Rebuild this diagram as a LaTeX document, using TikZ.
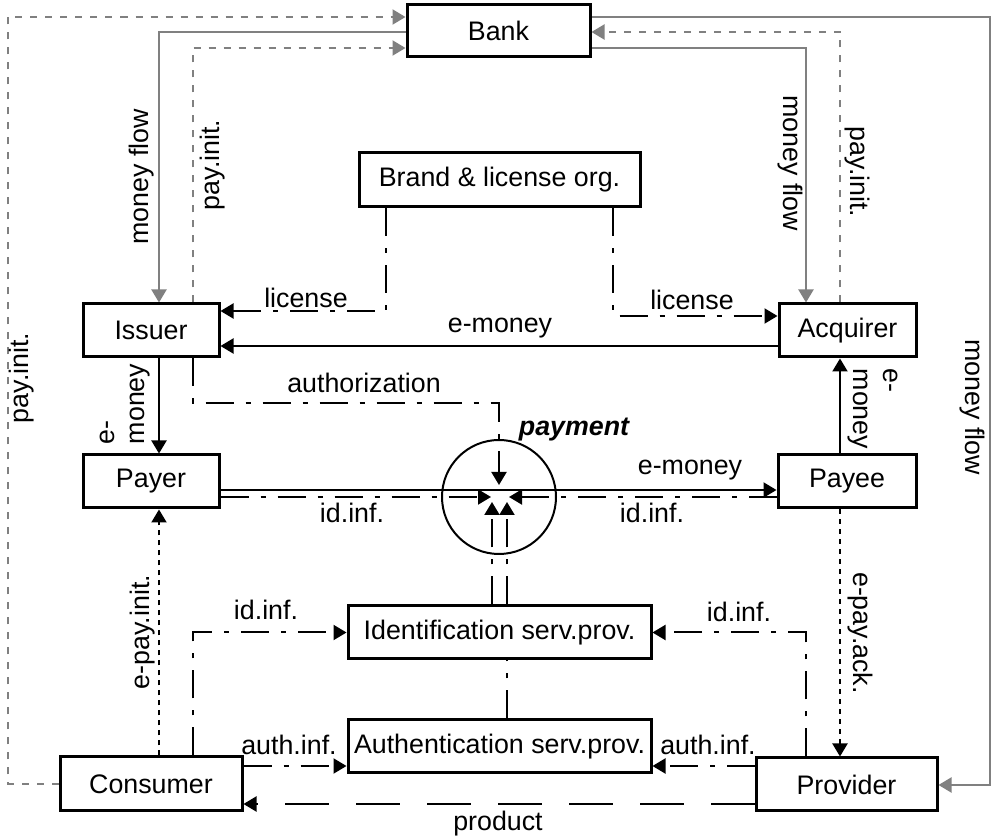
\documentclass[tikz,border=0pt]{standalone}
\usepackage{fontspec}
\setmainfont{Liberation Sans}
\usetikzlibrary{arrows.meta,calc}
\pgfdeclarelayer{wires}
\pgfsetlayers{wires,main}

\tikzset{
  txt/.style={font=\fontsize{13.4}{15}\selectfont},
  box/.style={txt, draw, line width=1.5pt, fill=white, inner sep=0pt,
    minimum height=26.5pt},
  lbl/.style={txt, inner sep=0pt},
  headtip/.style={-{Triangle[length=6.5pt,width=7.5pt]}},
  solidarrow/.style={line width=1pt, headtip},
  dashdot/.style={solidarrow, dash pattern=on 14pt off 6pt on 2.5pt off 6pt},
  dotline/.style={solidarrow, dash pattern=on 2.5pt off 2.5pt},
  longdash/.style={solidarrow, dash pattern=on 22pt off 13.5pt},
  greysolid/.style={line width=1pt, gray, headtip},
  greydash/.style={greysolid, dash pattern=on 3.5pt off 4pt}
}

\begin{document}
\begin{tikzpicture}[x=0.5pt,y=-0.5pt]
\useasboundingbox (0,0) rectangle (992,838);

% actors and institutions
\node[box, minimum width=91.5pt, minimum height=26pt] (bank) at (498.5,31) {Bank};
\node[box, minimum width=140.5pt, minimum height=27pt] (brand) at (499.5,180) {Brand \& license org.};
\node[box, minimum width=68pt] (iss) at (151,330.5) {Issuer};
\node[box, minimum width=68.5pt] (acq) at (847.5,330.5) {Acquirer};
\node[box, minimum width=68pt] (payer) at (151,481.5) {Payer};
\node[box, minimum width=69pt] (payee) at (847,481.5) {Payee};
\node[box, minimum width=151.5pt] (ident) at (499.5,632.5) {Identification serv.prov.};
\node[box, minimum width=151.5pt] (auth) at (499.5,746.5) {Authentication serv.prov.};
\node[box, minimum width=91pt, minimum height=27pt] (cons) at (151,784) {Consumer};
\node[box, minimum width=90.5pt] (prov) at (846.5,784.5) {Provider};

% the payment event
\node[draw, circle, line width=1pt, minimum size=57pt, inner sep=0pt] (pay) at (499,497) {};
\node[lbl, anchor=base, font=\fontsize{13.4}{15}\selectfont\bfseries\itshape] (payname) at (574,436) {payment};
\coordinate (tipAuthz) at (499,485);
\coordinate (tipL) at (491,497);
\coordinate (tipR) at (509,497);
\coordinate (tipI) at (492,502);
\coordinate (tipA) at (507,502);

\begin{pgfonlayer}{wires}
% bank links
\draw[greydash] (cons.west) -| (8,17) -- (bank.west |- 0,17);
\draw[greysolid] (bank.west |- 0,32) -| (iss.north -| 159,0);
\draw[greydash] (iss.north -| 193,0) |- (bank.west |- 0,48);
\draw[greysolid] (bank.east |- 0,48) -| (acq.north -| 806,0);
\draw[greydash] (acq.north -| 840,0) |- (bank.east |- 0,32);
\draw[greysolid] (bank.east |- 0,17) -| (990,785) -- (prov.east |- 0,785);

% licences
\draw[dashdot] (brand.south -| 386,0) |- (iss.east |- 0,311);
\draw[dashdot] (brand.south -| 613,0) |- (acq.west |- 0,316);

% e-money
\draw[solidarrow] (acq.west |- 0,346) -- (iss.east |- 0,346);
\draw[solidarrow] (iss.south -| 159,0) -- (payer.north -| 159,0);
\draw[solidarrow] (payer.east |- 0,490) -- (payee.west |- 0,490);
\draw[solidarrow] (payee.north -| 840,0) -- (acq.south -| 840,0);

% authorization and identification into the payment
\draw[dashdot] (iss.south -| 193,0) |- (499,403) -- (tipAuthz);
\draw[dashdot] (payer.east |- 0,497) -- (tipL);
\draw[dashdot] (payee.west |- 0,497) -- (tipR);
\draw[dashdot] (ident.north -| 492,0) -- (tipI);
\draw[dashdot] (auth.north -| 507,0) -- (tipA);

% consumer / provider side
\draw[dotline] (payee.south -| 840,0) -- (prov.north -| 840,0);
\draw[dotline] (cons.north -| 159,0) -- (payer.south -| 159,0);
\draw[dashdot] (cons.north -| 193,0) |- (ident.west);
\draw[dashdot] (prov.north -| 806,0) |- (ident.east);
\draw[dashdot] (cons.east |- 0,766) -- (auth.west |- 0,766);
\draw[dashdot] (prov.west |- 0,766) -- (auth.east |- 0,766);
\draw[longdash] (prov.west |- 0,804) -- (cons.east |- 0,804);
\end{pgfonlayer}

% labels
\node[lbl, rotate=90] (lPayInitOut) at (22,378) {pay.init.};
\node[lbl, rotate=90] (lMoneyL) at (142,177) {money flow};
\node[lbl, rotate=90] (lPayInitL) at (213,165) {pay.init.};
\node[lbl, rotate=-90] (lMoneyR) at (790,163) {money flow};
\node[lbl, rotate=-90] (lPayInitR) at (857,172) {pay.init.};
\node[lbl, rotate=-90] (lMoneyOut) at (972,407) {money flow};
\node[lbl, anchor=base] (lLicL) at (306,308) {license};
\node[lbl, anchor=base] (lLicR) at (692,310) {license};
\node[lbl, anchor=base] (lEmTop) at (500,333) {e-money};
\node[lbl, rotate=90, align=left] (lEmL) at (125,404) {e-\\money};
\node[lbl, rotate=-90, align=left] (lEmR) at (873,409) {e-\\money};
\node[lbl, anchor=base] (lAuthz) at (364,393) {authorization};
\node[lbl, anchor=base] (lEmMid) at (690,475) {e-money};
\node[lbl, anchor=base] (lIdL) at (352,523) {id.inf.};
\node[lbl, anchor=base] (lIdR) at (652,523) {id.inf.};
\node[lbl, rotate=90] (lEPayInit) at (143,632) {e-pay.init.};
\node[lbl, rotate=-90] (lEPayAck) at (860,633) {e-pay.ack.};
\node[lbl, anchor=base] (lIdCons) at (266,620) {id.inf.};
\node[lbl, anchor=base] (lIdProv) at (739,622) {id.inf.};
\node[lbl, anchor=base] (lAuthCons) at (289,755) {auth.inf.};
\node[lbl, anchor=base] (lAuthProv) at (708,755) {auth.inf.};
\node[lbl, anchor=base] (lProduct) at (498,831) {product};
\end{tikzpicture}
\end{document}
